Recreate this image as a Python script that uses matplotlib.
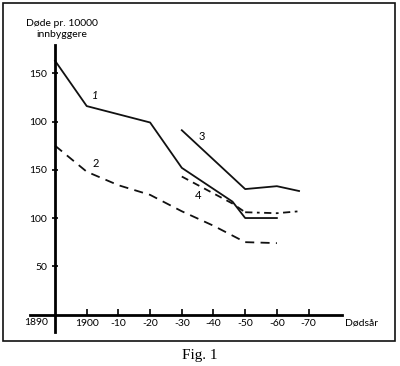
import matplotlib.pyplot as plt
from matplotlib.patches import Rectangle

# deaths per 10000 inhabitants, in axis units (lower scale; the upper
# part of the axis is labelled 100/150 again)
years1 = [1890, 1900, 1920, 1930, 1946, 1950, 1960]
rate1 = [263, 216, 199, 152, 117, 100, 100]

years2 = [1890, 1900, 1910, 1920, 1930, 1940, 1950, 1960]
rate2 = [175, 148, 134, 124, 107, 92, 75, 74]

years3 = [1930, 1950, 1960, 1967]
rate3 = [191, 130, 133, 128]

years4 = [1930, 1946, 1950, 1960, 1967]
rate4 = [143, 115, 106, 105, 107]

xticks = [1900, 1910, 1920, 1930, 1940, 1950, 1960, 1970]
xticklabels = ['1900', '-10', '-20', '-30', '-40', '-50', '-60', '-70']
yticks = [50, 100, 150, 200, 250]
yticklabels = ['50', '100', '150', '100', '150']

plt.rcParams['font.family'] = ['Lato', 'DejaVu Sans']

fig = plt.figure(figsize=(4, 3.66), dpi=100)
ax = fig.add_axes([30 / 400, 34 / 366, 315 / 400, 287 / 366])
ax.set_xlim(1882.1, 1981.5)
ax.set_ylim(-18.1, 279.3)

ink = '#111111'
ax.plot(years1, rate1, color=ink, lw=1.3)
ax.plot(years3, rate3, color=ink, lw=1.3)
ax.plot(years2, rate2, color=ink, lw=1.3, dashes=(5, 3.5))
ax.plot(years4[:3], rate4[:3], color=ink, lw=1.3, dashes=(4, 3))
ax.plot(years4[2:], rate4[2:], color=ink, lw=1.3, dashes=(4, 2.5, 1.5, 2.5))

# curve numbers
ax.text(1902.6, 227, '1', fontsize=8, style='italic', ha='center', va='center')
ax.text(1902.9, 156, '2', fontsize=8, ha='center', va='center')
ax.text(1936.4, 185, '3', fontsize=8, ha='center', va='center')
ax.text(1935.1, 123, '4', fontsize=8, ha='center', va='center')

# axes drawn as crossing lines
for s in ['top', 'right']:
    ax.spines[s].set_visible(False)
ax.spines['left'].set_position(('data', 1890))
ax.spines['left'].set_bounds(-18.1, 279)
ax.spines['bottom'].set_position(('data', 0))
ax.spines['bottom'].set_bounds(1882.1, 1980.5)
ax.spines['left'].set_linewidth(2)
ax.spines['bottom'].set_linewidth(2)

ax.set_xticks(xticks)
ax.set_xticklabels(xticklabels)
ax.set_yticks(yticks)
ax.set_yticklabels(yticklabels)
ax.tick_params(axis='x', direction='in', length=4, width=1.2, pad=3, labelsize=7.5)
ax.tick_params(axis='y', direction='inout', length=5, width=1.2, pad=3, labelsize=7.5)

ax.annotate('1890', xy=(1890, 0), xytext=(-13.3, -6), textcoords='offset points',
            ha='center', va='center', fontsize=7.5)
ax.annotate('Dødsår', xy=(1980.5, 0), xytext=(2.5, -6), textcoords='offset points',
            ha='left', va='center', fontsize=7.5)

fig.text(62 / 400, 1 - 29 / 366, 'Døde pr. 10000\ninnbyggere', ha='center',
         va='center', fontsize=7.5, linespacing=1.15)

fig.patches.append(Rectangle((3 / 400, 1 - 341 / 366), 392 / 400, 338 / 366,
                             transform=fig.transFigure, fill=False, lw=1.2,
                             edgecolor=ink))

fig.text(0.5, 1 - 355 / 366, 'Fig. 1', ha='center', va='center', fontsize=11,
         family='Liberation Serif')

fig.savefig('out.png', dpi=100)
